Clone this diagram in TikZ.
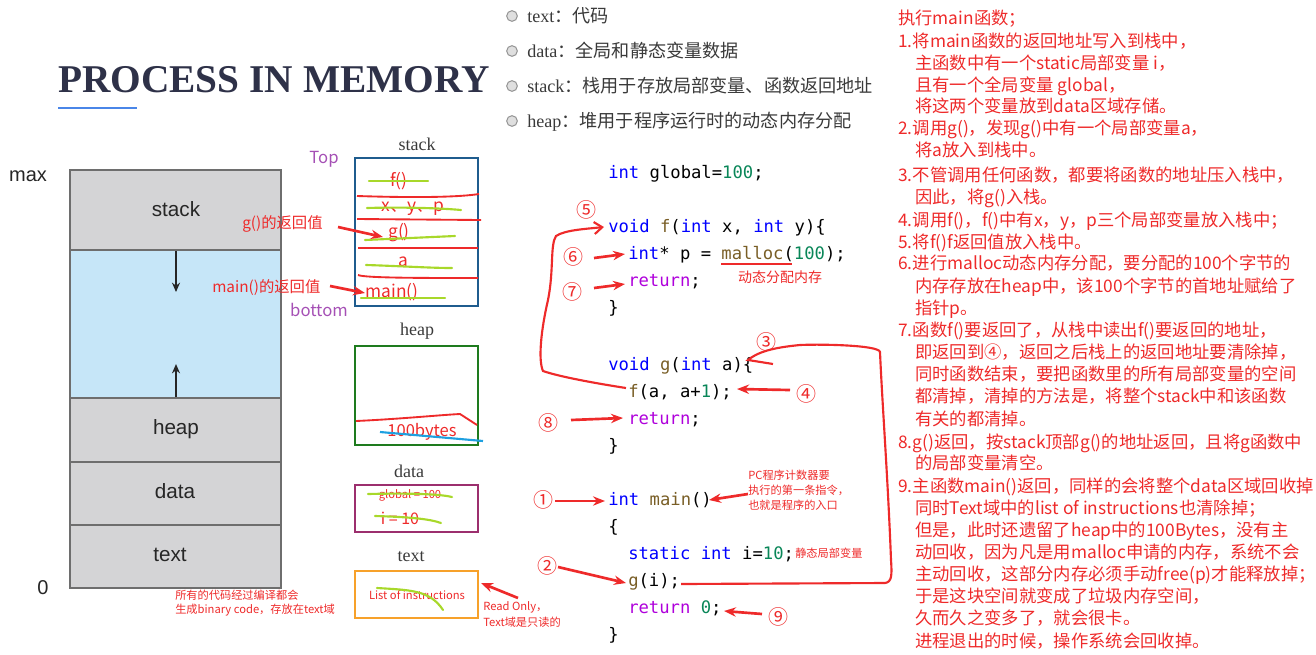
\documentclass[tikz,border=0pt]{standalone}
\usepackage{fontspec}
\setmainfont{Liberation Serif}
\newfontfamily\cjk{Noto Sans CJK SC}
\newfontfamily\codefont{DejaVu Sans Mono}
\newfontfamily\hsans{Liberation Sans}
\usetikzlibrary{arrows.meta}
\definecolor{myred}{HTML}{EE2A2A}
\definecolor{lgreen}{HTML}{A8D82A}
\definecolor{purp}{HTML}{A550B5}
\definecolor{segfill}{HTML}{D4D4D6}
\definecolor{segblue}{HTML}{C6E6F8}
\definecolor{segline}{HTML}{6E6E6E}
\definecolor{stackblue}{HTML}{1F5C8E}
\definecolor{heapgreen}{HTML}{1E7B1E}
\definecolor{datamag}{HTML}{9C2F6E}
\definecolor{textorange}{HTML}{F7A12A}
\definecolor{titlecol}{HTML}{2E3148}
\definecolor{ulblue}{HTML}{4A86E8}
\definecolor{kw}{HTML}{0000FF}
\definecolor{fn}{HTML}{795E26}
\definecolor{ctl}{HTML}{AF00DB}
\definecolor{num}{HTML}{098658}
\definecolor{bytesblue}{HTML}{1EA0E0}
\definecolor{dgray}{HTML}{3A3A3A}
\newcommand\kw[1]{\textcolor{kw}{#1}}
\newcommand\fnc[1]{\textcolor{fn}{#1}}
\newcommand\ctl[1]{\textcolor{ctl}{#1}}
\newcommand\nm[1]{\textcolor{num}{#1}}
\begin{document}
\begin{tikzpicture}[x=0.75pt,y=-0.75pt,
  rt/.style={anchor=base west,inner sep=0pt,text=myred,font=\cjk\fontsize{13pt}{15pt}\selectfont},
  code/.style={anchor=base west,inner sep=0pt,font=\codefont\fontsize{12.9pt}{15pt}\selectfont},
  bul/.style={anchor=base west,inner sep=0pt,text=dgray,font=\fontsize{13.6pt}{15pt}\selectfont},
  memlbl/.style={inner sep=0pt,text=black!85,font=\hsans\fontsize{15.5pt}{18pt}\selectfont},
  boxlbl/.style={inner sep=0pt,text=dgray,font=\fontsize{13.5pt}{16pt}\selectfont},
  redlbl/.style={inner sep=0pt,text=myred,font=\cjk\fontsize{11.5pt}{14pt}\selectfont},
  stk/.style={inner sep=0pt,text=myred,font=\cjk\fontsize{13pt}{15pt}\selectfont},
  small/.style={inner sep=0pt,text=myred,anchor=west,font=\cjk\fontsize{8.4pt}{10pt}\selectfont},
  num/.style={inner sep=0pt,text=myred,font=\cjk\fontsize{15pt}{16pt}\selectfont},
  rarrow/.style={draw=myred,line width=2pt,-{Stealth[length=9pt,width=7pt]}},
  hand/.style={draw=myred,line width=1.4pt},
  strike/.style={draw=lgreen,line width=1.6pt,line cap=round},
  seg/.style={draw=segline,line width=1pt,fill=segfill},
  bx/.style={line width=1.5pt}
]
\useasboundingbox (0,0) rectangle (1316,654);

% ---------- title ----------
\node[anchor=base west,inner sep=0pt,text=titlecol,font=\bfseries\fontsize{29.5pt}{32pt}\selectfont] (title) at (58,92) {PROCESS IN MEMORY};
\draw[ulblue,line width=1.5pt] (58,108) -- (137,108);

% ---------- memory layout ----------
\draw[seg] (70,170) rectangle (281,250);
\draw[seg,fill=segblue] (70,250) rectangle (281,398);
\draw[seg] (70,398) rectangle (281,462);
\draw[seg] (70,462) rectangle (281,525);
\draw[seg] (70,525) rectangle (281,588);
\node[memlbl] (mstack) at (176,209) {stack};
\node[memlbl] (mheap) at (176,429) {heap};
\node[memlbl] (mdata) at (175,491) {data};
\node[memlbl] (mtext) at (170,555) {text};
\node[memlbl,font=\hsans\fontsize{15pt}{18pt}\selectfont] (mmax) at (28,176) {max};
\node[memlbl,font=\hsans\fontsize{15pt}{18pt}\selectfont] (mzero) at (43,588) {0};
\coordinate (dA) at (176,251); \coordinate (dB) at (176,292);
\coordinate (uA) at (176,397); \coordinate (uB) at (176,364);
\draw[black!85,line width=1.5pt,-{Stealth[length=7pt,width=6pt]}] (dA) -- (dB);
\draw[black!85,line width=1.5pt,-{Stealth[length=7pt,width=6pt]}] (uA) -- (uB);

\node[redlbl,anchor=west] (gret) at (242,224) {g()的返回值};
\node[redlbl,anchor=west] (mret) at (212,288) {main()的返回值};
\node[inner sep=0pt,text=purp,font=\cjk\fontsize{12.5pt}{14pt}\selectfont] (top) at (324,159) {Top};
\node[inner sep=0pt,text=purp,font=\cjk\fontsize{12.5pt}{14pt}\selectfont] (bot) at (319,310) {bottom};
\node[small] (all1) at (175,595) {所有的代码经过编译都会};
\node[small] (all2) at (175,610) {生成binary code，存放在text域};

% ---------- stack / heap / data / text boxes ----------
\node[boxlbl] (lstack) at (417,144) {stack};
\node[boxlbl] (lheap) at (417,331) {heap};
\node[boxlbl] (ldata) at (409,471) {data};
\node[boxlbl] (ltext) at (411,557) {text};
\draw[bx,stackblue] (355,158) rectangle (478,306);
\draw[bx,heapgreen] (355,346) rectangle (478,445);
\draw[bx,datamag] (355,485) rectangle (478,532);
\draw[bx,textorange] (355,571) rectangle (478,618);

% stack content
\node[stk] (sf) at (399,181) {f()};
\node[stk] (sxyp) at (413,209) {x、y、p};
\node[stk] (sg) at (399,233) {g()};
\node[stk] (sa) at (403,262) {a};
\node[stk] (smain) at (392,292) {main()};
\draw[hand] (357,196) .. controls (420,198) and (460,197) .. (479,194);
\draw[hand] (357,219) -- (481,220);
\draw[hand] (358,248) -- (478,248);
\draw[hand] (358,275) .. controls (365,278) and (420,278) .. (478,278);
\draw[strike] (369,181) -- (428,181);
\draw[strike] (367,208) .. controls (400,207) and (440,208) .. (461,210);
\draw[strike] (365,240) -- (455,236);
\draw[strike] (366,265) .. controls (400,266) and (430,268) .. (452,268);
\draw[strike] (361,298) -- (445,298);
\coordinate (gA) at (338,227); \coordinate (gB) at (383,237);
\coordinate (mA) at (330,286); \coordinate (mB) at (365,293);
\draw[rarrow] (gA) -- (gB);
\draw[rarrow] (mA) -- (mB);

% heap content
\node[stk,font=\cjk\fontsize{12.4pt}{14pt}\selectfont] (bytes) at (422,432) {100bytes};
\draw[hand] (356,421) .. controls (400,419) and (440,415) .. (460,414) -- (477,425);
\draw[bytesblue,line width=1.6pt] (380,432) -- (483,441);

% data content
\node[stk,font=\cjk\fontsize{8.4pt}{10pt}\selectfont] (glob) at (410,495) {global = 100};
\node[stk,font=\cjk\fontsize{12pt}{14pt}\selectfont] (ival) at (400,518) {i = 10};
\draw[strike] (368,494) .. controls (410,493) and (440,494) .. (452,497);
\draw[strike] (375,516) .. controls (410,517) and (430,519) .. (441,523);

% text content
\node[stk,font=\cjk\fontsize{8.4pt}{10pt}\selectfont] (list) at (417,595) {List of instructions};
\draw[strike] (377,588) .. controls (410,590) and (430,590) .. (443,610);
\coordinate (roA) at (518,598); \coordinate (roB) at (481,583);
\draw[rarrow] (roA) -- (roB);
\node[small] (ro1) at (483,607) {Read Only，};
\node[small] (ro2) at (483,622) {Text域是只读的};

% ---------- bullets ----------
\foreach \yy/\nn in {16/ba,51/bb,86/bc,121/bd}{
  \node[circle,draw=gray!80,fill=gray!25,line width=0.8pt,minimum size=8pt,inner sep=0pt] (\nn) at (512,\yy) {};
}
\node[bul] (t1) at (527,22) {text{\cjk：代码}};
\node[bul] (t2) at (527,57) {data{\cjk：全局和静态变量数据}};
\node[bul] (t3) at (527,92) {stack{\cjk：栈用于存放局部变量、函数返回地址}};
\node[bul] (t4) at (527,127) {heap{\cjk：堆用于程序运行时的动态内存分配}};

% ---------- code ----------
\node[code] (c1) at (608,178) {\kw{int} global=\nm{100};};
\node[code] (c2) at (608,232) {\kw{void} \fnc{f}(\kw{int} x, \kw{int} y)\{};
\node[code] (c3) at (628,259) {\kw{int}* p = \fnc{malloc}(\nm{100});};
\node[code] (c4) at (628,286) {\ctl{return};};
\node[code] (c5) at (608,313) {\}};
\node[code] (c6) at (608,370) {\kw{void} \fnc{g}(\kw{int} a)\{};
\node[code] (c7) at (628,397) {\fnc{f}(a, a+\nm{1});};
\node[code] (c8) at (628,424) {\ctl{return};};
\node[code] (c9) at (608,451) {\}};
\node[code] (c10) at (608,505) {\kw{int} \fnc{main}()};
\node[code] (c11) at (608,532) {\{};
\node[code] (c12) at (628,559) {\kw{static} \kw{int} i=\nm{10};};
\node[code] (c13) at (628,586) {\fnc{g}(i);};
\node[code] (c14) at (628,613) {\ctl{return} \nm{0};};
\node[code] (c15) at (608,640) {\}};

\draw[myred,line width=1.5pt] (721,264) -- (792,264);
\node[redlbl,font=\cjk\fontsize{10.5pt}{12pt}\selectfont] (dyn) at (780,277) {动态分配内存};
\node[small] (stv) at (795,553) {静态局部变量};
\node[small] (pc1) at (748,475) {PC程序计数器要};
\node[small] (pc2) at (748,490) {执行的第一条指令，};
\node[small] (pc3) at (748,505) {也就是程序的入口};

% circled numbers
\node[num] (n1) at (543,500) {①};
\node[num] (n2) at (547,566) {②};
\node[num] (n3) at (766,342) {③};
\node[num] (n4) at (806,394) {④};
\node[num] (n5) at (586,210) {⑤};
\node[num] (n6) at (573,257) {⑥};
\node[num] (n7) at (572,292) {⑦};
\node[num] (n8) at (548,423) {⑧};
\node[num] (n9) at (778,617) {⑨};

\coordinate (a1) at (605,501);
\coordinate (a2) at (626,583);
\coordinate (a4) at (737,389);
\coordinate (a6) at (625,254);
\coordinate (a7) at (625,284);
\coordinate (a8) at (623,418);
\coordinate (a9) at (724,611);
\coordinate (apc) at (709,500);
\draw[rarrow] (555,501) -- (a1);
\draw[rarrow] (558,567) -- (a2);
\draw[rarrow] (790,390) -- (a4);
\draw[rarrow] (594,258) -- (a6);
\draw[rarrow] (594,288) -- (a7);
\draw[rarrow] (571,420) -- (a8);
\draw[rarrow] (762,614) -- (a9);
\draw[rarrow] (748,494) -- (apc);

% call f curve (5)
\coordinate (fcall) at (626,388);
\coordinate (fdef) at (604,227);
\draw[hand,line width=1.6pt,-{Straight Barb[length=6pt,width=9pt]}] (fcall) .. controls (600,384) and (560,377) .. (543,371)
  .. controls (538,360) and (541,330) .. (548,300)
  .. controls (554,270) and (550,245) .. (556,236)
  .. controls (565,230) and (585,229) .. (fdef);

% call g curve (3)
\coordinate (gcall) at (681,584);
\coordinate (gdef) at (748,360);
\draw[hand,line width=1.6pt] (gcall) -- (885,583) .. controls (892,582) and (892,575) .. (891,560)
  .. controls (888,480) and (882,400) .. (880,352)
  .. controls (879,345) and (820,344) .. (800,345)
  .. controls (780,347) and (760,350) .. (gdef) -- (773,364);

% ---------- right panel ----------
\node[rt] (r0) at (898,24) {执行main函数；};
\node[rt] (r1) at (898,47) {1.将main函数的返回地址写入到栈中，};
\node[rt] (r2) at (915,69) {主函数中有一个static局部变量 i，};
\node[rt] (r3) at (915,91) {且有一个全局变量 global，};
\node[rt] (r4) at (915,112) {将这两个变量放到data区域存储。};
\node[rt] (r5) at (898,134) {2.调用g()，发现g()中有一个局部变量a，};
\node[rt] (r6) at (915,156) {将a放入到栈中。};
\node[rt] (r7) at (898,181) {3.不管调用任何函数，都要将函数的地址压入栈中，};
\node[rt] (r8) at (915,203) {因此，将g()入栈。};
\node[rt] (r9) at (898,226) {4.调用f()，f()中有x，y，p三个局部变量放入栈中；};
\node[rt] (r10) at (898,248) {5.将f()f返回值放入栈中。};
\node[rt] (r11) at (898,269) {6.进行malloc动态内存分配，要分配的100个字节的};
\node[rt] (r12) at (915,292) {内存存放在heap中，该100个字节的首地址赋给了};
\node[rt] (r13) at (915,314) {指针p。};
\node[rt] (r14) at (898,336) {7.函数f()要返回了，从栈中读出f()要返回的地址，};
\node[rt] (r15) at (915,358) {即返回到④，返回之后栈上的返回地址要清除掉，};
\node[rt] (r16) at (915,380) {同时函数结束，要把函数里的所有局部变量的空间};
\node[rt] (r17) at (915,402) {都清掉，清掉的方法是，将整个stack中和该函数};
\node[rt] (r18) at (915,425) {有关的都清掉。};
\node[rt] (r19) at (898,448) {8.g()返回，按stack顶部g()的地址返回，且将g函数中};
\node[rt] (r20) at (915,469) {的局部变量清空。};
\node[rt] (r21) at (898,492) {9.主函数main()返回，同样的会将整个data区域回收掉};
\node[rt] (r22) at (915,514) {同时Text域中的list of instructions也清除掉；};
\node[rt] (r23) at (915,536) {但是，此时还遗留了heap中的100Bytes，没有主};
\node[rt] (r24) at (915,558) {动回收，因为凡是用malloc申请的内存，系统不会};
\node[rt] (r25) at (915,580) {主动回收，这部分内存必须手动free(p)才能释放掉；};
\node[rt] (r26) at (915,602) {于是这块空间就变成了垃圾内存空间，};
\node[rt] (r27) at (915,624) {久而久之变多了，就会很卡。};
\node[rt] (r28) at (915,647) {进程退出的时候，操作系统会回收掉。};
\end{tikzpicture}
\end{document}
